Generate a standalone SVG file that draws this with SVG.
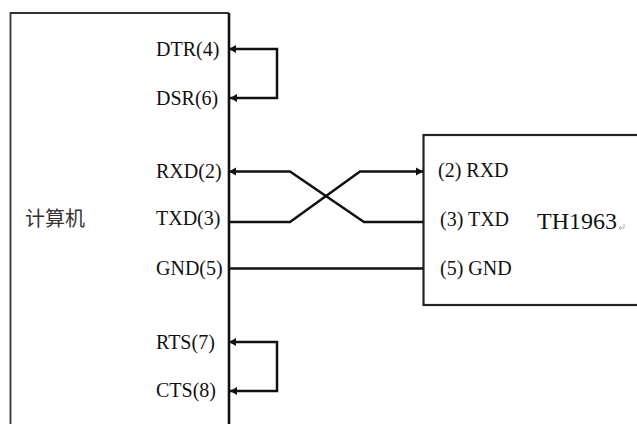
<svg xmlns="http://www.w3.org/2000/svg" width="637" height="424" viewBox="0 0 637 424">
<style>
text{font-family:"Liberation Serif","Noto Sans CJK SC",serif;font-size:20px;fill:#111}
.w{fill:none;stroke:#111;stroke-width:2.500}
.b{fill:none;stroke:#111;stroke-width:2.600}
</style>
<defs><marker id="a" markerUnits="userSpaceOnUse" markerWidth="8" markerHeight="9" refX="1" refY="4.500" orient="auto"><path d="M7 0.500L0 4.500L7 8.500Z" fill="#111"/></marker>
<marker id="e" markerUnits="userSpaceOnUse" markerWidth="8" markerHeight="9" refX="7" refY="4.500" orient="auto"><path d="M0 0.500L7 4.500L0 8.500Z" fill="#111"/></marker></defs>
<rect width="637" height="424" fill="#fff"/>
<g id="computer">
<path d="M229 13H10.500V424" fill="none" stroke="#333" stroke-width="1.800"/>
<path d="M229 13V424" class="b"/>
<text x="25" y="226" style="font-family:'Noto Sans CJK SC',sans-serif;font-size:20px;fill:#333">计算机</text>
<text x="156" y="56">DTR(4)</text>
<text x="156" y="105">DSR(6)</text>
<text x="156" y="178">RXD(2)</text>
<text x="156" y="225">TXD(3)</text>
<text x="156" y="275">GND(5)</text>
<text x="156" y="349">RTS(7)</text>
<text x="156" y="397">CTS(8)</text>
</g>
<g id="th1963">
<rect x="423.500" y="135" width="220" height="170" fill="none" stroke="#222" stroke-width="2.200"/>
<text x="438" y="177">(2) RXD</text>
<text x="440" y="226">(3) TXD</text>
<text x="440" y="275">(5) GND</text>
<text x="537" y="229" style="font-size:24px">TH1963</text>
<path d="M624 224V228H619M619 228L621 226M619 228L621 230" fill="none" stroke="#999" stroke-width="0.800"/>
</g>
<g id="connectors">
<path class="w" marker-start="url(#a)" marker-end="url(#e)" d="M230 49H277V98H230"/>
<path class="w" marker-start="url(#a)" d="M230 171.500H290L364 222H423"/>
<path class="w" marker-end="url(#e)" d="M229 222H290L360 171.500H423"/>
<path class="w" d="M229 268.500H423"/>
<path class="w" marker-start="url(#a)" marker-end="url(#e)" d="M230 342H277V391H230"/>
</g>
</svg>
